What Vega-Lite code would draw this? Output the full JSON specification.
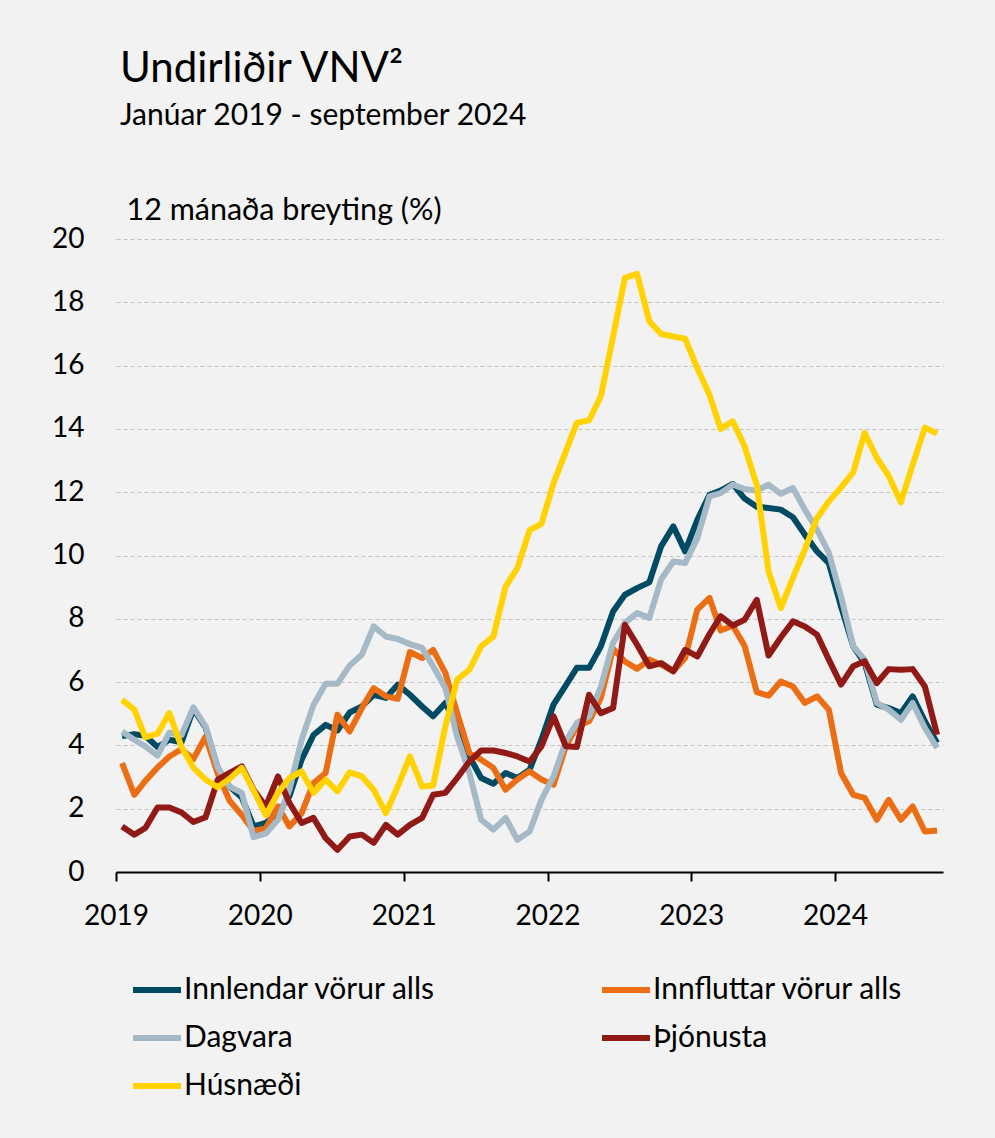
{
  "$schema": "https://vega.github.io/schema/vega-lite/v6.json",
  "width": 827,
  "height": 633,
  "autosize": {"type": "none"},
  "padding": {"left": 116, "top": 239, "right": 52, "bottom": 266},
  "background": "#F2F2F2",
  "config": {"font": "Lato", "view": {"stroke": null}},
  "title": {
    "text": "Undirliðir VNV²",
    "subtitle": "Janúar 2019 - september 2024",
    "anchor": "start",
    "frame": "group",
    "fontSize": 42,
    "fontWeight": "normal",
    "color": "#000000",
    "subtitleFontSize": 30,
    "subtitleColor": "#000000",
    "subtitlePadding": 10,
    "dx": 4,
    "offset": 63
  },
  "data": {
    "values": [
      {"date": "2019-01-01", "Innlendar vörur alls": 4.3, "Innfluttar vörur alls": 3.44, "Dagvara": 4.44, "Þjónusta": 1.44, "Húsnæði": 5.44},
      {"date": "2019-02-01", "Innlendar vörur alls": 4.35, "Innfluttar vörur alls": 2.44, "Dagvara": 4.18, "Þjónusta": 1.18, "Húsnæði": 5.13},
      {"date": "2019-03-01", "Innlendar vörur alls": 4.3, "Innfluttar vörur alls": 2.88, "Dagvara": 3.97, "Þjónusta": 1.39, "Húsnæði": 4.25},
      {"date": "2019-04-01", "Innlendar vörur alls": 3.95, "Innfluttar vörur alls": 3.3, "Dagvara": 3.68, "Þjónusta": 2.04, "Húsnæði": 4.37},
      {"date": "2019-05-01", "Innlendar vörur alls": 4.18, "Innfluttar vörur alls": 3.65, "Dagvara": 4.4, "Þjónusta": 2.04, "Húsnæði": 5.02},
      {"date": "2019-06-01", "Innlendar vörur alls": 4.1, "Innfluttar vörur alls": 3.88, "Dagvara": 4.33, "Þjónusta": 1.88, "Húsnæði": 3.95},
      {"date": "2019-07-01", "Innlendar vörur alls": 5.15, "Innfluttar vörur alls": 3.57, "Dagvara": 5.2, "Þjónusta": 1.58, "Húsnæði": 3.3},
      {"date": "2019-08-01", "Innlendar vörur alls": 4.57, "Innfluttar vörur alls": 4.28, "Dagvara": 4.6, "Þjónusta": 1.73, "Húsnæði": 2.92},
      {"date": "2019-09-01", "Innlendar vörur alls": 3.28, "Innfluttar vörur alls": 3.1, "Dagvara": 3.3, "Þjónusta": 2.92, "Húsnæði": 2.68},
      {"date": "2019-10-01", "Innlendar vörur alls": 2.7, "Innfluttar vörur alls": 2.25, "Dagvara": 2.7, "Þjónusta": 3.13, "Húsnæði": 2.95},
      {"date": "2019-11-01", "Innlendar vörur alls": 2.35, "Innfluttar vörur alls": 1.8, "Dagvara": 2.5, "Þjónusta": 3.34, "Húsnæði": 3.29},
      {"date": "2019-12-01", "Innlendar vörur alls": 1.44, "Innfluttar vörur alls": 1.3, "Dagvara": 1.1, "Þjónusta": 2.6, "Húsnæði": 2.58},
      {"date": "2020-01-01", "Innlendar vörur alls": 1.55, "Innfluttar vörur alls": 1.38, "Dagvara": 1.22, "Þjónusta": 2.07, "Húsnæði": 1.8},
      {"date": "2020-02-01", "Innlendar vörur alls": 1.85, "Innfluttar vörur alls": 2.07, "Dagvara": 1.65, "Þjónusta": 3.02, "Húsnæði": 2.5},
      {"date": "2020-03-01", "Innlendar vörur alls": 2.4, "Innfluttar vörur alls": 1.44, "Dagvara": 2.6, "Þjónusta": 2.18, "Húsnæði": 2.97},
      {"date": "2020-04-01", "Innlendar vörur alls": 3.55, "Innfluttar vörur alls": 1.86, "Dagvara": 4.18, "Þjónusta": 1.55, "Húsnæði": 3.18},
      {"date": "2020-05-01", "Innlendar vörur alls": 4.33, "Innfluttar vörur alls": 2.81, "Dagvara": 5.28, "Þjónusta": 1.71, "Húsnæði": 2.5},
      {"date": "2020-06-01", "Innlendar vörur alls": 4.65, "Innfluttar vörur alls": 3.13, "Dagvara": 5.95, "Þjónusta": 1.07, "Húsnæði": 2.92},
      {"date": "2020-07-01", "Innlendar vörur alls": 4.47, "Innfluttar vörur alls": 4.97, "Dagvara": 5.95, "Þjónusta": 0.7, "Húsnæði": 2.55},
      {"date": "2020-08-01", "Innlendar vörur alls": 5.04, "Innfluttar vörur alls": 4.44, "Dagvara": 6.52, "Þjónusta": 1.12, "Húsnæði": 3.15},
      {"date": "2020-09-01", "Innlendar vörur alls": 5.23, "Innfluttar vörur alls": 5.18, "Dagvara": 6.87, "Þjónusta": 1.18, "Húsnæði": 3.02},
      {"date": "2020-10-01", "Innlendar vörur alls": 5.6, "Innfluttar vörur alls": 5.81, "Dagvara": 7.76, "Þjónusta": 0.92, "Húsnæði": 2.6},
      {"date": "2020-11-01", "Innlendar vörur alls": 5.5, "Innfluttar vörur alls": 5.55, "Dagvara": 7.44, "Þjónusta": 1.49, "Húsnæði": 1.86},
      {"date": "2020-12-01", "Innlendar vörur alls": 5.92, "Innfluttar vörur alls": 5.47, "Dagvara": 7.36, "Þjónusta": 1.18, "Húsnæði": 2.7},
      {"date": "2021-01-01", "Innlendar vörur alls": 5.6, "Innfluttar vörur alls": 6.95, "Dagvara": 7.2, "Þjónusta": 1.49, "Húsnæði": 3.65},
      {"date": "2021-02-01", "Innlendar vörur alls": 5.23, "Innfluttar vörur alls": 6.76, "Dagvara": 7.08, "Þjónusta": 1.71, "Húsnæði": 2.7},
      {"date": "2021-03-01", "Innlendar vörur alls": 4.92, "Innfluttar vörur alls": 7.02, "Dagvara": 6.5, "Þjónusta": 2.44, "Húsnæði": 2.73},
      {"date": "2021-04-01", "Innlendar vörur alls": 5.34, "Innfluttar vörur alls": 6.29, "Dagvara": 5.81, "Þjónusta": 2.5, "Húsnæði": 4.6},
      {"date": "2021-05-01", "Innlendar vörur alls": 4.6, "Innfluttar vörur alls": 5.02, "Dagvara": 4.28, "Þjónusta": 2.97, "Húsnæði": 6.08},
      {"date": "2021-06-01", "Innlendar vörur alls": 3.65, "Innfluttar vörur alls": 3.76, "Dagvara": 3.13, "Þjónusta": 3.49, "Húsnæði": 6.39},
      {"date": "2021-07-01", "Innlendar vörur alls": 2.97, "Innfluttar vörur alls": 3.55, "Dagvara": 1.65, "Þjónusta": 3.84, "Húsnæði": 7.13},
      {"date": "2021-08-01", "Innlendar vörur alls": 2.79, "Innfluttar vörur alls": 3.29, "Dagvara": 1.34, "Þjónusta": 3.84, "Húsnæði": 7.44},
      {"date": "2021-09-01", "Innlendar vörur alls": 3.13, "Innfluttar vörur alls": 2.6, "Dagvara": 1.71, "Þjónusta": 3.76, "Húsnæði": 9.02},
      {"date": "2021-10-01", "Innlendar vörur alls": 2.97, "Innfluttar vörur alls": 2.92, "Dagvara": 1.02, "Þjónusta": 3.65, "Húsnæði": 9.6},
      {"date": "2021-11-01", "Innlendar vörur alls": 3.23, "Innfluttar vörur alls": 3.18, "Dagvara": 1.28, "Þjónusta": 3.49, "Húsnæði": 10.8},
      {"date": "2021-12-01", "Innlendar vörur alls": 4.18, "Innfluttar vörur alls": 2.92, "Dagvara": 2.28, "Þjónusta": 3.97, "Húsnæði": 11.0},
      {"date": "2022-01-01", "Innlendar vörur alls": 5.3, "Innfluttar vörur alls": 2.76, "Dagvara": 3.02, "Þjónusta": 4.92, "Húsnæði": 12.29},
      {"date": "2022-02-01", "Innlendar vörur alls": 5.9, "Innfluttar vörur alls": 3.97, "Dagvara": 4.13, "Þjónusta": 3.97, "Húsnæði": 13.29},
      {"date": "2022-03-01", "Innlendar vörur alls": 6.45, "Innfluttar vörur alls": 4.6, "Dagvara": 4.71, "Þjónusta": 3.95, "Húsnæði": 14.19},
      {"date": "2022-04-01", "Innlendar vörur alls": 6.45, "Innfluttar vörur alls": 4.76, "Dagvara": 4.92, "Þjónusta": 5.6, "Húsnæði": 14.27},
      {"date": "2022-05-01", "Innlendar vörur alls": 7.13, "Innfluttar vörur alls": 5.5, "Dagvara": 5.86, "Þjónusta": 5.02, "Húsnæði": 15.03},
      {"date": "2022-06-01", "Innlendar vörur alls": 8.23, "Innfluttar vörur alls": 7.05, "Dagvara": 7.24, "Þjónusta": 5.18, "Húsnæði": 16.92},
      {"date": "2022-07-01", "Innlendar vörur alls": 8.76, "Innfluttar vörur alls": 6.65, "Dagvara": 7.87, "Þjónusta": 7.81, "Húsnæði": 18.77},
      {"date": "2022-08-01", "Innlendar vörur alls": 8.97, "Innfluttar vörur alls": 6.42, "Dagvara": 8.18, "Þjónusta": 7.18, "Húsnæði": 18.9},
      {"date": "2022-09-01", "Innlendar vörur alls": 9.15, "Innfluttar vörur alls": 6.71, "Dagvara": 8.03, "Þjónusta": 6.5, "Húsnæði": 17.4},
      {"date": "2022-10-01", "Innlendar vörur alls": 10.29, "Innfluttar vörur alls": 6.55, "Dagvara": 9.24, "Þjónusta": 6.6, "Húsnæði": 17.0},
      {"date": "2022-11-01", "Innlendar vörur alls": 10.92, "Innfluttar vörur alls": 6.34, "Dagvara": 9.81, "Þjónusta": 6.34, "Húsnæði": 16.92},
      {"date": "2022-12-01", "Innlendar vörur alls": 10.13, "Innfluttar vörur alls": 6.76, "Dagvara": 9.76, "Þjónusta": 7.02, "Húsnæði": 16.85},
      {"date": "2023-01-01", "Innlendar vörur alls": 11.13, "Innfluttar vörur alls": 8.29, "Dagvara": 10.55, "Þjónusta": 6.81, "Húsnæði": 15.92},
      {"date": "2023-02-01", "Innlendar vörur alls": 11.92, "Innfluttar vörur alls": 8.66, "Dagvara": 11.87, "Þjónusta": 7.52, "Húsnæði": 15.08},
      {"date": "2023-03-01", "Innlendar vörur alls": 12.05, "Innfluttar vörur alls": 7.63, "Dagvara": 11.97, "Þjónusta": 8.08, "Húsnæði": 14.0},
      {"date": "2023-04-01", "Innlendar vörur alls": 12.26, "Innfluttar vörur alls": 7.78, "Dagvara": 12.24, "Þjónusta": 7.79, "Húsnæði": 14.24},
      {"date": "2023-05-01", "Innlendar vörur alls": 11.8, "Innfluttar vörur alls": 7.15, "Dagvara": 12.1, "Þjónusta": 7.97, "Húsnæði": 13.45},
      {"date": "2023-06-01", "Innlendar vörur alls": 11.54, "Innfluttar vörur alls": 5.68, "Dagvara": 12.05, "Þjónusta": 8.6, "Húsnæði": 12.23},
      {"date": "2023-07-01", "Innlendar vörur alls": 11.5, "Innfluttar vörur alls": 5.57, "Dagvara": 12.24, "Þjónusta": 6.84, "Húsnæði": 9.5},
      {"date": "2023-08-01", "Innlendar vörur alls": 11.45, "Innfluttar vörur alls": 6.02, "Dagvara": 11.95, "Þjónusta": 7.41, "Húsnæði": 8.34},
      {"date": "2023-09-01", "Innlendar vörur alls": 11.21, "Innfluttar vörur alls": 5.86, "Dagvara": 12.13, "Þjónusta": 7.92, "Húsnæði": 9.3},
      {"date": "2023-10-01", "Innlendar vörur alls": 10.66, "Innfluttar vörur alls": 5.34, "Dagvara": 11.45, "Þjónusta": 7.76, "Húsnæði": 10.19},
      {"date": "2023-11-01", "Innlendar vörur alls": 10.13, "Innfluttar vörur alls": 5.55, "Dagvara": 10.82, "Þjónusta": 7.5, "Húsnæði": 11.18},
      {"date": "2023-12-01", "Innlendar vörur alls": 9.76, "Innfluttar vörur alls": 5.13, "Dagvara": 10.08, "Þjónusta": 6.71, "Húsnæði": 11.71},
      {"date": "2024-01-01", "Innlendar vörur alls": 8.39, "Innfluttar vörur alls": 3.13, "Dagvara": 8.71, "Þjónusta": 5.92, "Húsnæði": 12.15},
      {"date": "2024-02-01", "Innlendar vörur alls": 7.13, "Innfluttar vörur alls": 2.44, "Dagvara": 7.13, "Þjónusta": 6.5, "Húsnæði": 12.63},
      {"date": "2024-03-01", "Innlendar vörur alls": 6.6, "Innfluttar vörur alls": 2.34, "Dagvara": 6.71, "Þjónusta": 6.66, "Húsnæði": 13.87},
      {"date": "2024-04-01", "Innlendar vörur alls": 5.29, "Innfluttar vörur alls": 1.65, "Dagvara": 5.34, "Þjónusta": 5.97, "Húsnæði": 13.08},
      {"date": "2024-05-01", "Innlendar vörur alls": 5.18, "Innfluttar vörur alls": 2.28, "Dagvara": 5.13, "Þjónusta": 6.41, "Húsnæði": 12.52},
      {"date": "2024-06-01", "Innlendar vörur alls": 5.02, "Innfluttar vörur alls": 1.65, "Dagvara": 4.81, "Þjónusta": 6.39, "Húsnæði": 11.68},
      {"date": "2024-07-01", "Innlendar vörur alls": 5.55, "Innfluttar vörur alls": 2.07, "Dagvara": 5.34, "Þjónusta": 6.41, "Húsnæði": 12.87},
      {"date": "2024-08-01", "Innlendar vörur alls": 4.76, "Innfluttar vörur alls": 1.28, "Dagvara": 4.55, "Þjónusta": 5.86, "Húsnæði": 14.04},
      {"date": "2024-09-01", "Innlendar vörur alls": 4.08, "Innfluttar vörur alls": 1.31, "Dagvara": 3.92, "Þjónusta": 4.34, "Húsnæði": 13.85}
    ]
  },
  "transform": [
    {"fold": ["Innlendar vörur alls", "Innfluttar vörur alls", "Dagvara", "Þjónusta", "Húsnæði"], "as": ["series", "value"]}
  ],
  "mark": {"type": "line", "strokeWidth": 6, "strokeJoin": "round"},
  "encoding": {
    "x": {
      "field": "date",
      "type": "temporal",
      "scale": {
        "type": "utc",
        "domain": [
          {"year": 2018, "month": 12, "date": 16, "hours": 12, "utc": true},
          {"year": 2024, "month": 9, "date": 16, "utc": true}
        ]
      },
      "axis": {
        "title": null,
        "values": [
          {"year": 2018, "month": 12, "date": 16, "hours": 12, "utc": true},
          {"year": 2019, "month": 12, "date": 16, "hours": 12, "utc": true},
          {"year": 2020, "month": 12, "date": 16, "hours": 12, "utc": true},
          {"year": 2021, "month": 12, "date": 16, "hours": 12, "utc": true},
          {"year": 2022, "month": 12, "date": 16, "hours": 12, "utc": true},
          {"year": 2023, "month": 12, "date": 16, "hours": 12, "utc": true}
        ],
        "labelExpr": "utcyear(datum.value) + 1",
        "grid": false,
        "domainColor": "#000000",
        "domainWidth": 2,
        "tickColor": "#000000",
        "tickWidth": 2,
        "tickSize": 9,
        "labelFontSize": 28,
        "labelColor": "#000000",
        "labelPadding": 21,
        "labelDx": 6,
        "labelFlush": false,
        "labelOverlap": false
      }
    },
    "y": {
      "field": "value",
      "type": "quantitative",
      "scale": {"domain": [0, 20], "nice": false},
      "axis": {
        "values": [0, 2, 4, 6, 8, 10, 12, 14, 16, 18, 20],
        "grid": true,
        "gridColor": "#C4C4C4",
        "gridDash": [4, 3],
        "gridWidth": 1,
        "domain": false,
        "ticks": false,
        "tickSize": 0,
        "labelFontSize": 28,
        "labelColor": "#000000",
        "labelPadding": 32,
        "title": "12 mánaða breyting (%)",
        "titleAngle": 0,
        "titleAlign": "left",
        "titleBaseline": "alphabetic",
        "titleX": 10,
        "titleY": -20,
        "titleFontSize": 30.5,
        "titleFontWeight": "normal",
        "titleColor": "#000000"
      }
    },
    "color": {
      "field": "series",
      "type": "nominal",
      "scale": {
        "domain": ["Innlendar vörur alls", "Innfluttar vörur alls", "Dagvara", "Þjónusta", "Húsnæði"],
        "range": ["#004B64", "#EB6E14", "#A5B9C6", "#911916", "#FFD200"]
      },
      "legend": {
        "title": null,
        "orient": "none",
        "direction": "horizontal",
        "legendX": 14,
        "legendY": 724,
        "columns": 2,
        "padding": 0,
        "symbolType": "stroke",
        "symbolSize": 2304,
        "symbolStrokeWidth": 6,
        "labelFontSize": 30,
        "labelColor": "#000000",
        "labelOffset": 0,
        "labelLimit": 400,
        "columnPadding": 153,
        "rowPadding": 6
      }
    }
  }
}
